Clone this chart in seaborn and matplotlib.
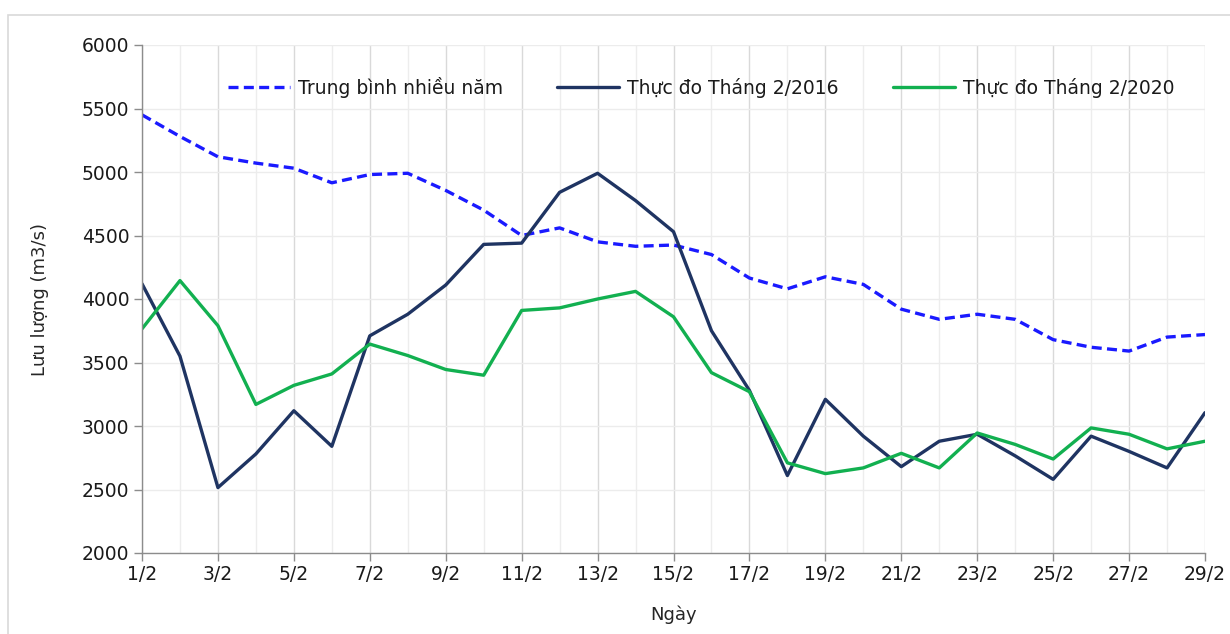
import matplotlib.pyplot as plt
import matplotlib.patches as mpatches
import pandas as pd
import seaborn as sns

# ngày trong tháng 2 (1/2 ... 29/2)
days = list(range(1, 30))
tick_days = list(range(1, 30, 2))
tick_labels = [f"{d}/2" for d in tick_days]

# lưu lượng (m3/s)
tb_nhieu_nam = [5450, 5280, 5120, 5070, 5030, 4915, 4980, 4990, 4855, 4700,
                4500, 4560, 4450, 4415, 4425, 4350, 4165, 4080, 4175, 4115,
                3920, 3840, 3880, 3840, 3680, 3620, 3590, 3700, 3720]
thang2_2016 = [4120, 3550, 2515, 2780, 3120, 2840, 3710, 3880, 4110, 4430,
               4440, 4840, 4990, 4775, 4530, 3750, 3280, 2610, 3210, 2920,
               2680, 2880, 2935, 2765, 2580, 2920, 2800, 2670, 3105]
thang2_2020 = [3765, 4145, 3790, 3170, 3320, 3410, 3645, 3555, 3445, 3400,
               3910, 3930, 4000, 4060, 3860, 3420, 3270, 2710, 2625, 2670,
               2785, 2670, 2945, 2855, 2740, 2985, 2935, 2820, 2880]

series = [
    ("Trung bình nhiều năm", tb_nhieu_nam, "#1a1aff", (0, (3, 1.6))),
    ("Thực đo Tháng 2/2016", thang2_2016, "#1f3462", "-"),
    ("Thực đo Tháng 2/2020", thang2_2020, "#12b050", "-"),
]

sns.set_theme(style="white")
plt.rcParams['font.family'] = ['DejaVu Sans']

fig = plt.figure(figsize=(12.3, 6.34), dpi=100)
# khung ngoài
fig.patches.append(mpatches.Rectangle((8 / 1230, -0.1), 1.2, 1 - 15 / 634 + 0.1,
                                      transform=fig.transFigure, fill=False,
                                      edgecolor="#d9d9d9", linewidth=1.2))
ax = fig.add_axes([142 / 1230, 1 - 553 / 634, (1205 - 142) / 1230, (553 - 45) / 634])

for name, vals, color, ls in series:
    df = pd.DataFrame({"day": days, "q": vals})
    sns.lineplot(data=df, x="day", y="q", ax=ax, color=color, linestyle=ls,
                 linewidth=2.4, label=name, solid_joinstyle="round",
                 solid_capstyle="round", dash_capstyle="butt")

ax.set_xlim(1, 29)
ax.set_ylim(2000, 6000)
ax.set_yticks(range(2000, 6001, 500))
ax.set_xticks(tick_days)
ax.set_xticklabels(tick_labels)
ax.set_xticks(days, minor=True)

ax.grid(True, which="major", axis="x", color="#d9d9d9", linewidth=1)
ax.grid(True, which="minor", axis="x", color="#ededed", linewidth=1)
ax.grid(True, which="major", axis="y", color="#ececec", linewidth=1)
ax.set_axisbelow(True)

for s in ["top", "right"]:
    ax.spines[s].set_visible(False)
for s in ["left", "bottom"]:
    ax.spines[s].set_color("#8c8c8c")
    ax.spines[s].set_linewidth(1)

ax.tick_params(axis="both", which="major", direction="out", length=6, width=1,
               color="#8c8c8c", labelsize=13.5, labelcolor="#1a1a1a", pad=3,
               bottom=True, left=True)
ax.tick_params(axis="x", which="minor", length=0)

ax.set_xlabel("Ngày", fontsize=13, color="#262626", labelpad=15)
ax.set_ylabel("Lưu lượng (m3/s)", fontsize=13, color="#262626", labelpad=24)

leg = ax.legend(loc="center left", bbox_to_anchor=((228 - 142) / 1063, (553 - 87) / 508),
                ncol=3, frameon=False, fontsize=13.5, handlelength=3.3,
                columnspacing=2.9, handletextpad=0.43, borderpad=0,
                borderaxespad=0)
for t in leg.get_texts():
    t.set_color("#1a1a1a")

plt.savefig("out.png", dpi=100)
